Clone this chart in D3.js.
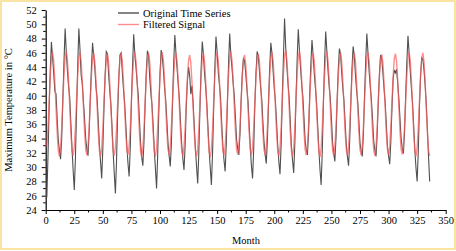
<html>
<head>
  <meta charset="utf-8" />
  <script src="https://cdnjs.cloudflare.com/ajax/libs/d3/7.8.5/d3.min.js"></script>
  <style>
    body { margin: 0; background: #fff; }
    text { font-family: "Liberation Serif", "DejaVu Serif", serif; fill: #000; }
    .axis path, .axis line { stroke: #000; }
  </style>
</head>
<body>
  <svg width="456" height="251"></svg>
  <script>
    // monthly maximum temperature, one row per year (Jan..Dec), 28 years
    var original = [
      25.8, 31.5, 38.2, 43.6, 47.5, 45.4, 43.2, 40.6, 40.3, 36.9, 33.8, 32.4,
      31.1, 33.9, 39.5, 44.8, 49.4, 46.2, 43.5, 41.3, 39.8, 36.2, 32.7, 29.6,
      26.8, 31.2, 37.9, 44.1, 49.4, 46.5, 42.9, 41.7, 39.2, 36.8, 34.0, 32.5,
      31.6, 34.8, 39.6, 43.9, 47.4, 45.6, 43.8, 41.2, 39.6, 36.4, 33.1, 30.7,
      28.4, 32.6, 38.4, 42.9, 46.2, 45.9, 43.1, 40.8, 38.9, 35.8, 32.2, 29.1,
      26.3, 31.0, 37.7, 42.6, 45.7, 46.0, 43.4, 41.0, 39.1, 36.3, 33.0, 30.5,
      28.7, 32.8, 39.1, 44.2, 48.6, 45.8, 44.0, 41.9, 40.1, 36.7, 33.5, 31.4,
      30.2, 33.6, 38.8, 43.3, 46.3, 45.7, 42.6, 40.4, 38.7, 35.9, 32.4, 29.8,
      27.0, 31.7, 38.0, 43.0, 46.4, 45.5, 43.6, 41.1, 39.4, 36.6, 33.4, 31.6,
      30.1, 33.4, 39.3, 44.6, 48.5, 45.9, 43.7, 41.5, 39.5, 36.1, 33.2, 31.2,
      29.6, 33.0, 38.6, 42.1, 44.0, 42.8, 40.2, 41.4, 39.0, 35.7, 32.6, 30.1,
      27.7, 32.1, 38.5, 43.8, 47.6, 45.8, 43.0, 41.2, 38.8, 35.6, 32.3, 29.9,
      27.5, 32.0, 38.3, 43.9, 48.3, 46.1, 43.3, 41.6, 39.7, 36.2, 33.0, 31.0,
      29.4, 33.2, 39.0, 44.5, 48.7, 45.7, 43.9, 41.8, 40.0, 37.0, 33.9, 32.6,
      31.7, 34.6, 39.4, 43.1, 45.2, 44.9, 43.2, 41.0, 39.3, 36.0, 32.8, 30.2,
      28.4, 32.5, 38.7, 43.2, 46.2, 45.6, 43.5, 41.3, 39.6, 36.5, 33.6, 31.8,
      30.5, 33.8, 39.2, 44.0, 47.4, 45.9, 43.4, 41.0, 39.2, 36.3, 33.1, 30.8,
      29.0, 33.1, 39.6, 45.3, 50.8, 46.8, 44.2, 41.7, 39.8, 36.4, 33.0, 30.9,
      29.2, 33.3, 39.5, 45.0, 49.3, 46.4, 43.8, 41.6, 39.9, 36.9, 33.7, 32.4,
      31.7, 34.9, 40.1, 44.4, 47.8, 45.7, 43.1, 41.1, 39.0, 35.8, 32.5, 29.7,
      27.5, 32.2, 38.9, 44.6, 49.0, 46.3, 43.6, 41.4, 39.7, 36.8, 33.5, 32.0,
      30.8, 34.1, 39.3, 43.7, 46.6, 45.8, 43.2, 41.0, 39.3, 36.2, 33.2, 31.5,
      30.2, 33.7, 39.1, 43.8, 46.9, 45.6, 43.0, 40.8, 39.2, 36.6, 33.4, 32.3,
      31.5, 34.7, 40.0, 44.8, 48.7, 46.0, 43.4, 41.2, 39.4, 36.7, 33.6, 32.4,
      31.5, 34.4, 39.2, 43.0, 45.7, 45.3, 43.3, 41.1, 39.2, 36.1, 33.0, 31.6,
      30.4, 33.6, 38.4, 42.3, 43.6, 43.2, 43.7, 41.8, 39.6, 36.8, 34.0, 32.6,
      31.9, 35.0, 40.2, 44.7, 48.4, 45.9, 43.4, 41.0, 38.9, 35.7, 32.4, 29.9,
      28.0, 32.1, 38.3, 42.8, 45.3, 45.1, 43.6, 41.5, 38.8, 35.2, 31.4, 28.0
    ];

    var filtered = [
      32.9, 35.6, 39.2, 42.8, 45.3, 46.1, 44.9, 42.1, 38.4, 34.9, 32.3, 31.5,
      32.7, 35.5, 39.3, 42.9, 45.4, 46.2, 45.0, 42.2, 38.5, 34.9, 32.3, 31.6,
      32.8, 35.6, 39.3, 42.8, 45.3, 46.1, 44.9, 42.1, 38.5, 35.0, 32.5, 31.7,
      32.9, 35.6, 39.2, 42.7, 45.2, 46.0, 44.8, 42.1, 38.4, 34.8, 32.3, 31.5,
      32.7, 35.4, 39.1, 42.6, 45.1, 45.9, 44.7, 42.0, 38.4, 34.9, 32.4, 31.6,
      32.8, 35.5, 39.1, 42.7, 45.2, 46.0, 44.9, 42.1, 38.5, 34.9, 32.4, 31.7,
      32.9, 35.6, 39.3, 42.8, 45.3, 46.1, 44.9, 42.1, 38.4, 34.8, 32.2, 31.4,
      32.6, 35.4, 39.1, 42.7, 45.2, 46.0, 44.8, 42.0, 38.3, 34.8, 32.3, 31.5,
      32.7, 35.5, 39.2, 42.8, 45.3, 46.1, 44.9, 42.2, 38.5, 35.0, 32.5, 31.7,
      32.9, 35.7, 39.3, 42.8, 45.2, 46.0, 44.7, 41.9, 38.3, 34.8, 32.3, 31.5,
      32.7, 35.4, 39.0, 42.5, 44.9, 45.7, 44.6, 41.9, 38.3, 34.8, 32.3, 31.5,
      32.6, 35.4, 39.1, 42.7, 45.2, 46.0, 44.8, 42.0, 38.3, 34.7, 32.2, 31.4,
      32.6, 35.4, 39.1, 42.7, 45.3, 46.1, 44.9, 42.1, 38.4, 34.9, 32.4, 31.6,
      32.8, 35.6, 39.3, 42.9, 45.4, 46.2, 45.0, 42.2, 38.5, 35.0, 32.5, 31.8,
      33.0, 35.7, 39.2, 42.6, 45.0, 45.7, 44.5, 41.8, 38.3, 34.9, 32.5, 31.7,
      32.8, 35.5, 39.1, 42.6, 45.1, 45.9, 44.8, 42.1, 38.5, 35.0, 32.5, 31.7,
      32.9, 35.6, 39.2, 42.8, 45.3, 46.1, 44.9, 42.1, 38.4, 34.9, 32.3, 31.5,
      32.7, 35.5, 39.3, 43.0, 45.6, 46.4, 45.1, 42.3, 38.5, 34.9, 32.3, 31.5,
      32.7, 35.6, 39.4, 43.0, 45.5, 46.3, 45.0, 42.2, 38.5, 35.0, 32.5, 31.7,
      32.9, 35.7, 39.3, 42.8, 45.3, 46.0, 44.8, 42.0, 38.3, 34.8, 32.2, 31.4,
      32.6, 35.5, 39.3, 42.9, 45.4, 46.2, 45.0, 42.2, 38.5, 34.9, 32.4, 31.6,
      32.8, 35.6, 39.2, 42.7, 45.2, 46.0, 44.8, 42.1, 38.4, 34.9, 32.4, 31.6,
      32.8, 35.6, 39.2, 42.7, 45.2, 46.0, 44.8, 42.1, 38.5, 35.0, 32.5, 31.7,
      32.9, 35.7, 39.4, 42.9, 45.4, 46.1, 44.9, 42.1, 38.4, 34.9, 32.4, 31.6,
      32.8, 35.5, 39.1, 42.6, 45.1, 45.8, 44.7, 42.0, 38.4, 34.9, 32.5, 31.7,
      32.9, 35.6, 39.2, 42.7, 45.2, 45.9, 44.8, 42.1, 38.5, 35.0, 32.5, 31.8,
      33.0, 35.7, 39.3, 42.8, 45.3, 46.1, 44.9, 42.1, 38.4, 34.8, 32.3, 31.5,
      32.7, 35.5, 39.2, 42.7, 45.2, 46.0, 44.8, 42.0, 38.3, 34.8, 32.3, 31.6
    ];

    var xTicks = [0, 25, 50, 75, 100, 125, 150, 175, 200, 225, 250, 275, 300, 325, 350];
    var yTicks = [24, 26, 28, 30, 32, 34, 36, 38, 40, 42, 44, 46, 48, 50, 52];
    var seriesNames = ["Original Time Series", "Filtered Signal"];
    var seriesColors = ["#505050", "#ff5c5c"];

    var svg = d3.select("svg");

    // yellow frame round the figure
    svg.append("rect")
      .attr("x", 1).attr("y", 1)
      .attr("width", 454).attr("height", 248)
      .attr("fill", "#fff")
      .attr("stroke", "#f8dc82")
      .attr("stroke-width", 1.5);

    var xScale = d3.scaleLinear().domain([0, 350]).range([45.7, 445.7]);
    var yScale = d3.scaleLinear().domain([24, 52]).range([210, 10]);

    var xAxis = svg.append("g")
      .attr("class", "axis")
      .attr("transform", "translate(0,210)")
      .call(d3.axisBottom(xScale).tickValues(xTicks).tickSize(4).tickSizeOuter(0).tickPadding(3));

    var xMinor = d3.range(12.5, 350, 25);
    xAxis.selectAll("line.minor").data(xMinor).enter().append("line")
      .attr("class", "minor")
      .attr("x1", d => xScale(d)).attr("x2", d => xScale(d))
      .attr("y1", 0).attr("y2", 2.5)
      .attr("stroke", "#000");

    var yAxis = svg.append("g")
      .attr("class", "axis")
      .attr("transform", "translate(45.7,0)")
      .call(d3.axisLeft(yScale).tickValues(yTicks).tickSize(4).tickSizeOuter(0).tickPadding(5));

    var yMinor = d3.range(25, 52, 2);
    yAxis.selectAll("line.minor").data(yMinor).enter().append("line")
      .attr("class", "minor")
      .attr("y1", d => yScale(d)).attr("y2", d => yScale(d))
      .attr("x1", 0).attr("x2", -2.5)
      .attr("stroke", "#000");

    svg.selectAll(".axis text")
      .style("font-family", "'Liberation Serif', serif")
      .style("font-size", "10.5px");
    svg.selectAll(".axis path").attr("stroke-width", 1.2);

    var line = d3.line()
      .x((d, i) => xScale(i + 1))
      .y(d => yScale(d));

    svg.append("path")
      .datum(original)
      .attr("d", line)
      .attr("fill", "none")
      .attr("stroke", seriesColors[0])
      .attr("stroke-width", 1.1);

    svg.append("path")
      .datum(filtered)
      .attr("d", line)
      .attr("fill", "none")
      .attr("stroke", seriesColors[1])
      .attr("stroke-opacity", 0.7)
      .attr("stroke-width", 1.4);

    // legend
    var legend = svg.selectAll("g.legend")
      .data(seriesNames)
      .enter()
      .append("g")
        .attr("class", "legend")
        .attr("transform", (d, i) => "translate(118," + (13 + i * 11.5) + ")");

    legend.append("line")
      .attr("x1", 0).attr("x2", 21)
      .attr("stroke", (d, i) => seriesColors[i])
      .attr("stroke-opacity", (d, i) => i ? 0.7 : 1)
      .attr("stroke-width", 1.4);

    legend.append("text")
      .attr("x", 25).attr("y", 3.5)
      .style("font-size", "10.5px")
      .text(d => d);

    svg.append("text")
      .attr("x", 246).attr("y", 244)
      .attr("text-anchor", "middle")
      .style("font-size", "10.5px")
      .text("Month");

    svg.append("text")
      .attr("transform", "translate(12,110) rotate(-90)")
      .attr("text-anchor", "middle")
      .style("font-size", "10.5px")
      .text("Maximum Temperature in °C");
  </script>
</body>
</html>
